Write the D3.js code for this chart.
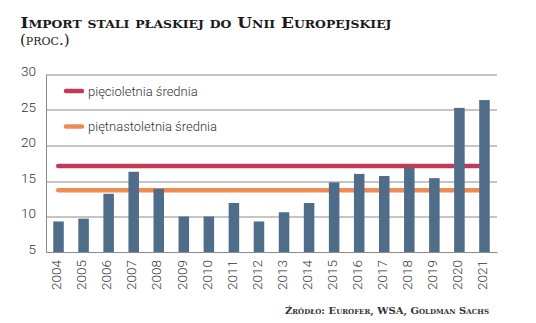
<!DOCTYPE html>
<html>
<head>
<meta charset="utf-8">
<script src="https://cdnjs.cloudflare.com/ajax/libs/d3/7.8.5/d3.min.js"></script>
<style>
    body { margin: 0; background: #fff; }
    .title { font-family: "DejaVu Serif", serif; font-weight: bold; font-variant: small-caps; fill: #1a1a1a; }
    .lbl { font-family: Roboto, sans-serif; font-weight: 300; fill: #333; }
</style>
</head>
<body>
<svg width="536" height="323"></svg>
<script>
    // import stali płaskiej, proc.
    var years = ["2004", "2005", "2006", "2007", "2008", "2009", "2010", "2011", "2012",
        "2013", "2014", "2015", "2016", "2017", "2018", "2019", "2020", "2021"];
    var values = [9.3, 9.7, 13.2, 16.3, 13.9, 10.0, 10.0, 11.9, 9.3,
        10.6, 11.9, 14.8, 16.0, 15.7, 16.9, 15.4, 25.3, 26.4];
    var avgNames = ["pięcioletnia średnia", "piętnastoletnia średnia"];
    var avgValues = [17.1, 13.7];
    var yTicks = [5, 10, 15, 20, 25, 30];

    var svg = d3.select("svg"),
        margin = { top: 74.5, right: 39, bottom: 71, left: 46 },
        width = +svg.attr("width") - margin.left - margin.right,
        height = +svg.attr("height") - margin.top - margin.bottom,
        g = svg.append("g").attr("transform", "translate(" + margin.left + "," + margin.top + ")");

    var avgColors = ["#c23b56", "#ef8a50"];

    var x = d3.scaleBand()
        .domain(years)
        .range([0, width])
        .paddingInner(0.58)
        .paddingOuter(0.29);

    var y = d3.scaleLinear()
        .domain([5, 30])
        .range([height, 0]);

    // gridlines
    g.append("g")
        .selectAll("line")
        .data(yTicks.slice(1))
        .enter().append("line")
        .attr("x1", 0).attr("x2", width)
        .attr("y1", function (d) { return Math.round(y(d)) + 0.5; })
        .attr("y2", function (d) { return Math.round(y(d)) + 0.5; })
        .attr("stroke", "#8a8a8a")
        .attr("stroke-width", 1);

    // y axis
    var yAxis = g.append("g")
        .call(d3.axisLeft(y).tickValues(yTicks).tickSize(0).tickPadding(10));
    yAxis.select(".domain").attr("stroke", "#8a8a8a");
    yAxis.selectAll("text").attr("class", "lbl").attr("font-size", 13.5).attr("dy", "0.1em");

    // average lines
    g.append("g")
        .selectAll("line")
        .data(avgValues)
        .enter().append("line")
        .attr("x1", x("2004") + 5)
        .attr("x2", x("2021") + x.bandwidth() / 2)
        .attr("y1", function (d) { return y(d); })
        .attr("y2", function (d) { return y(d); })
        .attr("stroke", function (d, i) { return avgColors[i]; })
        .attr("stroke-width", 4.5)
        .attr("stroke-linecap", "round");

    // bars
    g.append("g")
        .selectAll("rect")
        .data(values)
        .enter().append("rect")
        .attr("x", function (d, i) { return x(years[i]); })
        .attr("width", x.bandwidth())
        .attr("y", function (d) { return y(d); })
        .attr("height", function (d) { return height - y(d); })
        .attr("fill", "#4f6d88");

    // x axis
    var xAxis = g.append("g")
        .attr("transform", "translate(0," + height + ")")
        .call(d3.axisBottom(x).tickSize(0).tickPadding(0));
    xAxis.select(".domain").attr("stroke", "#8a8a8a").attr("stroke-width", 1.2);
    xAxis.selectAll("text")
        .attr("class", "lbl")
        .attr("font-size", 13.5)
        .attr("text-anchor", "end")
        .attr("transform", "rotate(-90)")
        .attr("x", -8)
        .attr("y", 0)
        .attr("dx", 0)
        .attr("dy", "0.2em");

    // legend
    var legend = g.append("g")
        .selectAll("g")
        .data(avgNames)
        .enter().append("g")
        .attr("transform", function (d, i) { return "translate(20," + (16.5 + i * 35.5) + ")"; });
    legend.append("line")
        .attr("x1", 0).attr("x2", 16)
        .attr("stroke", function (d, i) { return avgColors[i]; })
        .attr("stroke-width", 4.5)
        .attr("stroke-linecap", "round");
    legend.append("text")
        .attr("class", "lbl")
        .attr("font-size", 13)
        .attr("x", 22)
        .attr("dy", "0.35em")
        .text(function (d) { return d; });

    // title
    svg.append("text")
        .attr("class", "title")
        .attr("x", 20.5).attr("y", 28)
        .attr("font-size", 15)
        .attr("textLength", 371)
        .attr("lengthAdjust", "spacingAndGlyphs")
        .text("Import stali płaskiej do Unii Europejskiej");
    svg.append("text")
        .attr("class", "title")
        .attr("x", 20).attr("y", 44.5)
        .attr("font-size", 15)
        .style("font-weight", "normal")
        .text("(proc.)");

    // source
    svg.append("text")
        .attr("class", "title")
        .attr("x", 489).attr("y", 314)
        .attr("text-anchor", "end")
        .attr("font-size", 10)
        .style("fill", "#333")
        .text("Źródło: Eurofer, WSA, Goldman Sachs");
</script>
</body>
</html>
